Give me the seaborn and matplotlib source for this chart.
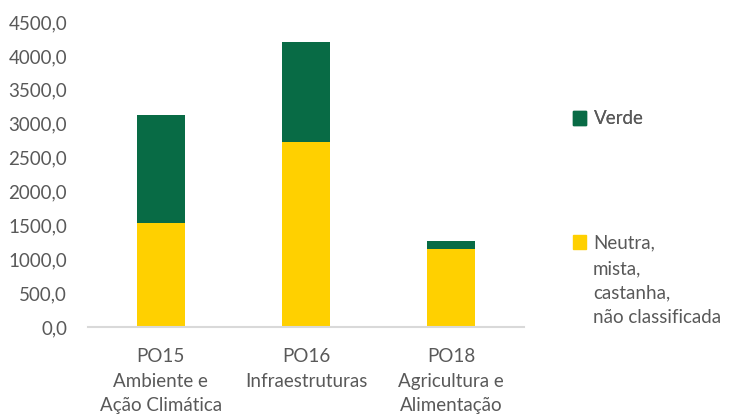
import pandas as pd
import matplotlib.pyplot as plt
import seaborn as sns
from matplotlib.patches import Patch
from matplotlib.ticker import FuncFormatter

# Dados (milhões)
categorias = ["PO15\nAmbiente e\nAção Climática", "PO16\nInfraestruturas", "PO18\nAgricultura e\nAlimentação"]
verde = [1590, 1475, 118]
neutra = [1535, 2730, 1150]

cor_verde = "#086B45"
cor_amarela = "#FFD000"
cinza = "#595959"
tamanho = 13.5

df = pd.DataFrame({"categoria": categorias, "verde": verde, "neutra": neutra})
df["total"] = df["verde"] + df["neutra"]

sns.set_theme(style="white")
plt.rcParams["font.family"] = ["Lato", "DejaVu Sans"]

fig = plt.figure(figsize=(7.29, 4.16), dpi=100)
ax = fig.add_axes([0.1207, 0.214, 0.598, 0.733])

# Barras empilhadas: total (verde) por baixo, neutra (amarela) por cima
sns.barplot(data=df, x="categoria", y="total", color=cor_verde, width=0.33,
            saturation=1, linewidth=0, ax=ax)
sns.barplot(data=df, x="categoria", y="neutra", color=cor_amarela, width=0.33,
            saturation=1, linewidth=0, ax=ax)

ax.set_ylim(0, 4500)
ax.set_yticks(range(0, 4501, 500))
ax.yaxis.set_major_formatter(FuncFormatter(lambda v, p: f"{v:.1f}".replace(".", ",")))
ax.set_xlabel("")
ax.set_ylabel("")

ax.tick_params(axis="y", length=0, labelsize=tamanho, labelcolor=cinza, pad=15)
ax.tick_params(axis="x", length=0, labelsize=tamanho, labelcolor=cinza, pad=15)
for lbl in ax.get_xticklabels():
    lbl.set_linespacing(1.55)

sns.despine(ax=ax, left=True)
ax.spines["bottom"].set_color("#D9D9D9")
ax.spines["bottom"].set_linewidth(1.5)

# Legenda
opcoes = dict(loc="center left", frameon=False, borderpad=0, borderaxespad=0,
              handlelength=0.7, handleheight=0.7, handletextpad=0.4,
              fontsize=tamanho, labelcolor=cinza)
leg1 = fig.legend(handles=[Patch(color=cor_verde)], labels=["Verde"],
                  bbox_to_anchor=(573 / 729, 1 - 119 / 416), **opcoes)
leg2 = fig.legend(handles=[Patch(color=cor_amarela)], labels=["Neutra,"],
                  bbox_to_anchor=(573 / 729, 1 - 243 / 416), **opcoes)
fig.add_artist(leg1)
fig.text(593 / 729, 1 - 260 / 416, "mista,\ncastanha,\nnão classificada", ha="left", va="top",
         fontsize=tamanho, color=cinza, linespacing=1.55)

fig.savefig("out.png", dpi=100)
